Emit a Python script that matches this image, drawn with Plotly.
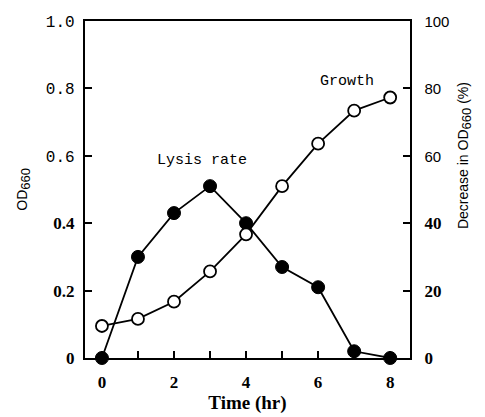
import plotly.graph_objects as go

time_hr = [0, 1, 2, 3, 4, 5, 6, 7, 8]
growth_od660 = [0.095, 0.116, 0.167, 0.257, 0.367, 0.51, 0.636, 0.734, 0.773]
lysis_pct = [0, 30, 43, 51, 40, 27, 21, 2, 0]

x_tickvals = [0, 2, 4, 6, 8]
x_ticktext = ["0", "2", "4", "6", "8"]
od_tickvals = [0, 0.2, 0.4, 0.6, 0.8, 1.0]
od_ticktext = ["0", "0.2", "0.4", "0.6", "0.8", "1.0"]
pct_tickvals = [0, 20, 40, 60, 80, 100]
pct_ticktext = ["0", "20", "40", "60", "80", "100"]

BOLD = "Liberation Serif"
MONO = "Liberation Mono"
SANS = "Liberation Sans"


def bold(t):
    return f"<b>{t}</b>"


def styled(t, fam, size):
    return f'<span style="font-family:{fam};font-size:{size}px">{t}</span>'


od_labels = [bold(t) if v < 0.5 else styled(t, MONO, 16) for t, v in zip(od_ticktext, od_tickvals)]
pct_labels = [bold(t) if v < 50 else styled(t, SANS, 15) for t, v in zip(pct_ticktext, pct_tickvals)]

fig = go.Figure()

fig.add_trace(go.Scatter(
    x=time_hr, y=lysis_pct, yaxis="y", mode="lines+markers",
    line=dict(color="black", width=1.8),
    marker=dict(symbol="circle", size=13, color="black", line=dict(color="black", width=1)),
    showlegend=False, cliponaxis=False,
))
fig.add_trace(go.Scatter(
    x=time_hr, y=growth_od660, yaxis="y2", mode="lines+markers",
    line=dict(color="black", width=1.8),
    marker=dict(symbol="circle", size=12, color="white", line=dict(color="black", width=1.8)),
    showlegend=False, cliponaxis=False,
))

tick_common = dict(ticks="inside", ticklen=7, tickwidth=1.5, tickcolor="black",
                   showline=True, linecolor="black", linewidth=2,
                   showgrid=False, zeroline=False, automargin=False)

# page body has an 8px margin, so the figure is drawn 8px smaller and offset
fig.update_layout(
    width=477, height=409,
    margin=dict(l=77, r=75, t=13, b=59, autoexpand=False),
    paper_bgcolor="white", plot_bgcolor="white",
    font=dict(family=BOLD, color="black", size=16),
    xaxis=dict(
        range=[-0.47, 8.55], tickvals=x_tickvals, ticktext=[bold(t) for t in x_ticktext],
        minor=dict(dtick=1, tick0=0, ticks="inside", ticklen=7, tickwidth=1.5, tickcolor="black"),
        mirror=True, tickfont=dict(family=BOLD, size=17), ticklabelstandoff=8,
        title=dict(text="<b>Time (hr)</b>", font=dict(family=BOLD, size=19), standoff=4),
        **tick_common,
    ),
    yaxis=dict(
        side="right", range=[0, 100], tickvals=pct_tickvals, ticktext=pct_labels,
        tickfont=dict(family=BOLD, size=17), ticklabelstandoff=9, **tick_common,
    ),
    yaxis2=dict(
        side="left", overlaying="y", range=[0, 1], tickvals=od_tickvals, ticktext=od_labels,
        tickfont=dict(family=BOLD, size=17), ticklabelstandoff=5, **tick_common,
    ),
    annotations=[
        dict(text='OD<sub><span style="font-size:13px">660</span></sub>', xref="paper", yref="paper",
             x=-0.19, y=0.5, xanchor="center", yanchor="middle",
             textangle=-90, showarrow=False, font=dict(family=SANS, size=14)),
        dict(text='Decrease in OD<sub><span style="font-size:13px">660</span></sub> (%)',
             xref="paper", yref="paper", x=1.17, y=0.6, xanchor="center", yanchor="middle",
             textangle=-90, showarrow=False, font=dict(family=SANS, size=14)),
        dict(text="Lysis rate", xref="x", yref="y2", x=2.78, y=0.585,
             xanchor="center", yanchor="middle",
             showarrow=False, font=dict(family=MONO, size=15)),
        dict(text="Growth", xref="x", yref="y2", x=6.8, y=0.82,
             xanchor="center", yanchor="middle",
             showarrow=False, font=dict(family=MONO, size=15)),
    ],
)

fig.write_html("out.html")
